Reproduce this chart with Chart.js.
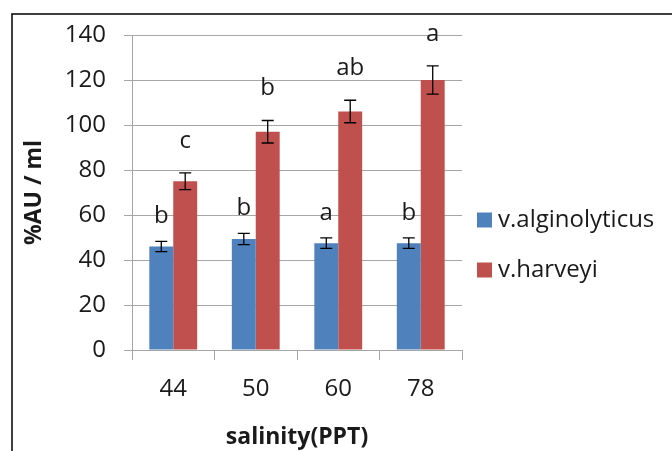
<!DOCTYPE html>
<html><head><meta charset="utf-8">
<script src="https://cdn.jsdelivr.net/npm/chart.js@4"></script>
<style>html,body{margin:0;padding:0;background:#fff;}canvas{display:block;}</style>
</head><body>
<canvas id="c" width="672" height="451"></canvas>
<script>
const categories = ['44', '50', '60', '78'];
const seriesNames = ['v.alginolyticus', 'v.harveyi'];
const alginolyticus = [46, 49.3, 47.5, 47.5];
const alginolyticusErr = [2.3, 2.5, 2.3, 2.3];
const alginolyticusLetters = ['b', 'b', 'a', 'b'];
const harveyi = [75, 97, 106, 120];
const harveyiErr = [3.7, 5, 5, 6.3];
const harveyiLetters = ['c', 'b', 'ab', 'a'];
const yTicks = [0, 20, 40, 60, 80, 100, 120, 140];

const FONT = '"Open Sans"';
const TXT = '#1a1a1a';
const GRID = '#a6a6a6';

const extrasPlugin = {
  id: 'extras',
  beforeDraw(chart) {
    const ctx = chart.ctx;
    ctx.save();
    ctx.fillStyle = '#fff';
    ctx.fillRect(0, 0, chart.width, chart.height);
    ctx.strokeStyle = '#000';
    ctx.lineWidth = 1.5;
    ctx.beginPath();
    ctx.moveTo(12, chart.height);
    ctx.lineTo(12, 14);
    ctx.lineTo(chart.width, 14);
    ctx.stroke();
    ctx.restore();
  },
  afterDatasetsDraw(chart) {
    const ctx = chart.ctx;
    const y = chart.scales.y;
    const errs = [alginolyticusErr, harveyiErr];
    const letters = [alginolyticusLetters, harveyiLetters];
    const letterOffset = [25, 32];
    ctx.save();
    chart.data.datasets.forEach((ds, di) => {
      const meta = chart.getDatasetMeta(di);
      meta.data.forEach((bar, i) => {
        const v = ds.data[i], e = errs[di][i];
        const yt = y.getPixelForValue(v + e), yb = y.getPixelForValue(v - e);
        const x = bar.x;
        ctx.strokeStyle = '#000';
        ctx.lineWidth = 1.3;
        ctx.beginPath();
        ctx.moveTo(x, yt); ctx.lineTo(x, yb);
        ctx.moveTo(x - 6, yt); ctx.lineTo(x + 6, yt);
        ctx.moveTo(x - 6, yb); ctx.lineTo(x + 6, yb);
        ctx.stroke();
        ctx.fillStyle = TXT;
        ctx.font = '24px ' + FONT;
        ctx.textAlign = 'center';
        ctx.textBaseline = 'middle';
        ctx.fillText(letters[di][i], x, yt - letterOffset[di]);
      });
    });
    // legend
    const lx = chart.chartArea.right + 15;
    chart.data.datasets.forEach((ds, di) => {
      const cy = 220 + di * 50;
      ctx.fillStyle = ds.backgroundColor;
      ctx.fillRect(lx, cy - 7.5, 15, 15);
      ctx.fillStyle = TXT;
      ctx.font = '24px ' + FONT;
      ctx.textAlign = 'left';
      ctx.textBaseline = 'middle';
      ctx.fillText(ds.label, lx + 21, cy);
    });
    ctx.restore();
  }
};

new Chart(document.getElementById('c'), {
  type: 'bar',
  data: {
    labels: categories,
    datasets: [
      { label: seriesNames[0], data: alginolyticus, backgroundColor: '#4F81BD' },
      { label: seriesNames[1], data: harveyi, backgroundColor: '#C0504D' }
    ]
  },
  options: {
    responsive: false,
    devicePixelRatio: 1,
    animation: false,
    categoryPercentage: 0.58,
    barPercentage: 1.0,
    layout: { padding: { left: 12, top: 35, right: 210, bottom: 0 } },
    plugins: { legend: { display: false }, tooltip: { enabled: false } },
    scales: {
      x: {
        grid: { offset: true, drawOnChartArea: false, color: GRID, tickLength: 10 },
        border: { color: GRID },
        ticks: { color: TXT, font: { family: FONT, size: 24 }, padding: 15 },
        title: { display: true, text: 'salinity(PPT)', color: TXT, font: { family: FONT, size: 23, weight: 'bold' }, padding: { top: 0, bottom: 0 } },
        afterFit: s => { s.height = 101; }
      },
      y: {
        min: 0, max: 140,
        afterBuildTicks: s => { s.ticks = yTicks.map(v => ({ value: v })); },
        grid: { color: GRID, tickLength: 8 },
        border: { color: GRID },
        ticks: { color: TXT, font: { family: FONT, size: 24 }, padding: 18 },
        title: { display: true, text: '%AU / ml', color: TXT, font: { family: FONT, size: 23, weight: 'bold' }, padding: { top: 9, bottom: 0 } },
        afterFit: s => { s.width = 120; }
      }
    }
  },
  plugins: [extrasPlugin]
});
</script>
</body></html>
